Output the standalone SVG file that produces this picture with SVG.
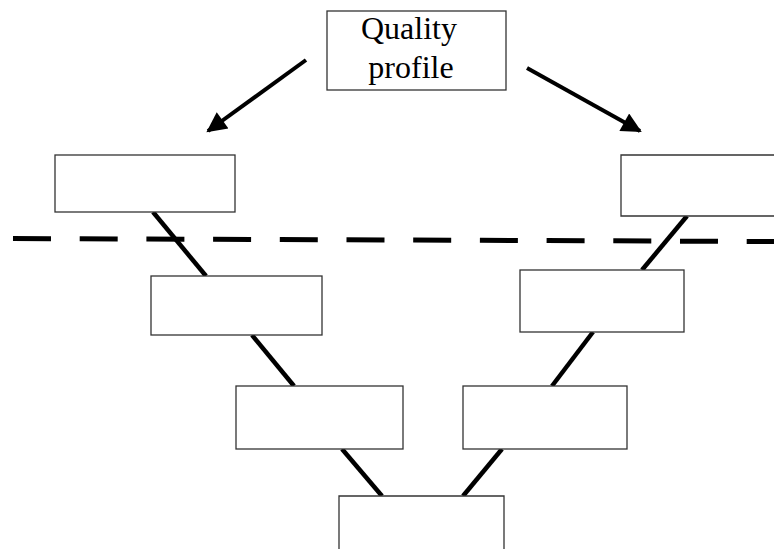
<svg xmlns="http://www.w3.org/2000/svg" width="774" height="549" viewBox="0 0 774 549">
<style>
.box{fill:#fff;stroke:#333;stroke-width:1.3}
.ln{stroke:#000;stroke-width:4.5;fill:none}
.arr{stroke:#000;stroke-width:4;fill:none;marker-end:url(#ah)}
.lbl{font-family:"Liberation Serif","Times New Roman",serif;font-size:32px;fill:#000;text-anchor:middle}
</style>
<defs>
<marker id="ah" viewBox="0 0 10 10" refX="9" refY="5" markerWidth="6" markerHeight="5" markerUnits="strokeWidth" orient="auto">
<path d="M0,0 L10,5 L0,10 Z" fill="#000"/>
</marker>
</defs>
<rect width="774" height="549" fill="#fff"/>
<g id="connectors">
<line class="arr" x1="306" y1="60" x2="208" y2="131"/>
<line class="arr" x1="527" y1="68" x2="640" y2="131"/>
<line class="ln" x1="153" y1="212" x2="206" y2="276"/>
<line class="ln" x1="252" y1="335" x2="294" y2="386"/>
<line class="ln" x1="342" y1="449" x2="382" y2="496"/>
<line class="ln" x1="687" y1="216" x2="642" y2="270"/>
<line class="ln" x1="593" y1="332" x2="552" y2="386"/>
<line class="ln" x1="502" y1="449" x2="463" y2="496"/>
<line x1="13" y1="238.5" x2="774" y2="241.5" stroke="#000" stroke-width="5" stroke-dasharray="38 28.7"/>
</g>
<g id="quality-profile">
<rect class="box" x="327" y="11" width="179" height="79"/>
<text class="lbl" x="409" y="39">Quality</text>
<text class="lbl" x="411" y="78">profile</text>
</g>
<g id="left-1"><rect class="box" x="55" y="155" width="180" height="57"/></g>
<g id="left-2"><rect class="box" x="151" y="276" width="171" height="59"/></g>
<g id="left-3"><rect class="box" x="236" y="386" width="167" height="63"/></g>
<g id="bottom"><path class="box" d="M339,549 V496 H504 V549"/></g>
<g id="right-3"><rect class="box" x="463" y="386" width="164" height="63"/></g>
<g id="right-2"><rect class="box" x="520" y="270" width="164" height="62"/></g>
<g id="right-1"><path class="box" d="M775,155 H621 V216 H775"/></g>
</svg>
